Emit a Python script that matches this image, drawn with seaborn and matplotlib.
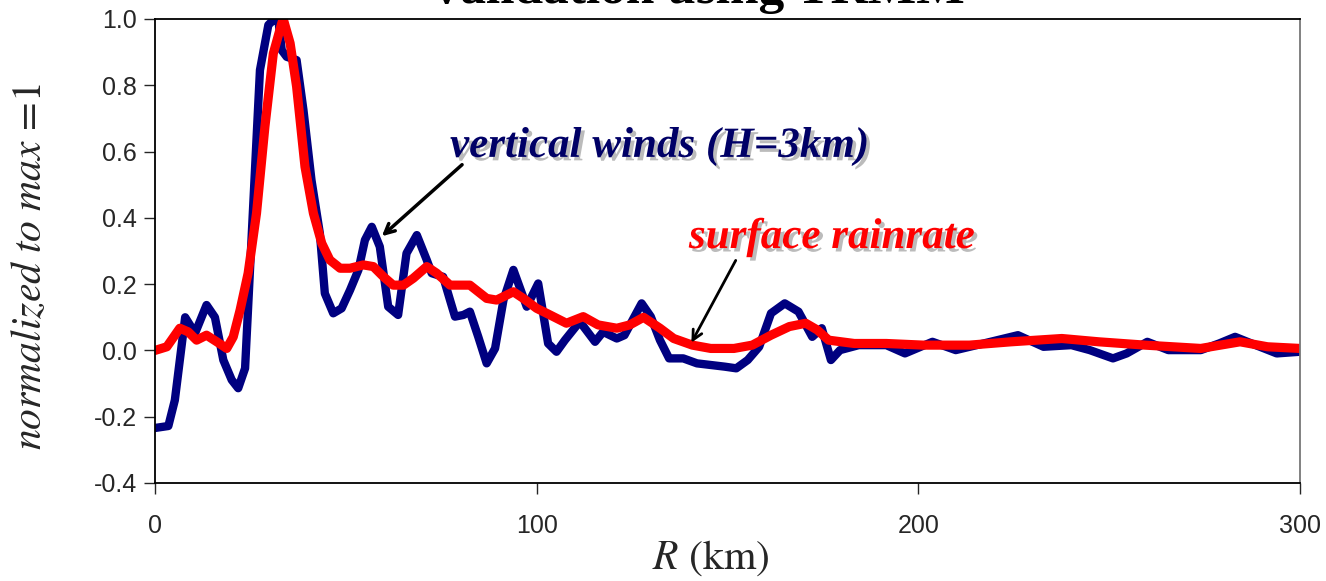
import numpy as np
import pandas as pd
import matplotlib
matplotlib.use("Agg")
import matplotlib.pyplot as plt
import matplotlib.patheffects as pe
import seaborn as sns

# ---- data ----
wind_r = [0, 3.5, 5.2, 7.9, 10.5, 13.5, 15.7, 17.9, 20.1, 21.8, 23.6, 27.5, 29.7, 31.0, 32.3,
          33.2, 34.5, 37.1, 38.9, 41.0, 43.2, 44.5, 46.7, 48.9, 51.1, 53.3, 55.0, 56.8, 58.9,
          61.1, 63.7, 65.9, 68.6, 71.2, 72.5, 75.5, 77.3, 78.6, 80.8, 82.5, 84.7, 86.9, 89.1,
          91.3, 93.9, 97.4, 100.4, 103.0, 105.2, 107.4, 111.3, 115.3, 117.4, 121.0, 123.0,
          127.5, 129.9, 132.3, 134.7, 138.4, 142.0, 149.3, 152.3, 155.3, 158.3, 161.4, 165.0,
          168.6, 172.2, 174.7, 177.1, 179.5, 184.4, 191.6, 196.5, 203.7, 209.8, 217.1, 226.1,
          232.8, 240.1, 244.9, 251.0, 254.6, 260.0, 265.5, 274.0, 278.8, 283.0, 287.3, 293.9, 300.0]
wind_v = [-0.234, -0.228, -0.15, 0.10, 0.052, 0.137, 0.10, -0.029, -0.089, -0.114, -0.054, 0.846,
          0.982, 0.997, 1.0, 0.906, 0.886, 0.876, 0.725, 0.514, 0.353, 0.172, 0.112, 0.127,
          0.182, 0.243, 0.333, 0.373, 0.313, 0.132, 0.107, 0.293, 0.348, 0.273, 0.233, 0.222,
          0.152, 0.102, 0.107, 0.117, 0.041, -0.039, 0.006, 0.152, 0.243, 0.132, 0.202, 0.021,
          -0.004, 0.031, 0.087, 0.026, 0.056, 0.036, 0.046, 0.142, 0.102, 0.031, -0.024, -0.024,
          -0.039, -0.049, -0.054, -0.029, 0.011, 0.112, 0.142, 0.117, 0.041, 0.067, -0.029,
          0.001, 0.016, 0.016, -0.009, 0.026, 0.001, 0.021, 0.046, 0.011, 0.016, 0.001, -0.024,
          -0.009, 0.026, 0.001, 0.001, 0.021, 0.041, 0.021, -0.009, -0.004]

rain_r = [0, 3.1, 6.5, 8.7, 10.9, 13.5, 16.2, 18.8, 20.5, 22.3, 24.4, 26.6, 28.8, 31.0, 33.2,
          33.6, 35.4, 37.1, 39.3, 41.5, 43.7, 45.8, 48.5, 51.1, 54.6, 57.2, 59.9, 62.4, 65.1,
          67.7, 71.2, 73.8, 77.3, 82.5, 86.9, 89.5, 93.9, 96.5, 100.0, 103.5, 107.8, 112.2,
          116.1, 121.0, 124.4, 128.0, 132.3, 135.9, 140.8, 145.6, 151.7, 156.5, 161.4, 166.2,
          170.5, 173.5, 176.5, 183.2, 191.6, 201.3, 213.4, 224.3, 237.6, 247.3, 259.4, 274.0,
          284.3, 291.5, 300.0]
rain_v = [0.0, 0.011, 0.067, 0.056, 0.031, 0.046, 0.026, 0.006, 0.041, 0.122, 0.233, 0.414,
          0.675, 0.896, 0.987, 1.0, 0.927, 0.796, 0.554, 0.414, 0.323, 0.273, 0.248, 0.248,
          0.258, 0.253, 0.222, 0.197, 0.197, 0.218, 0.253, 0.233, 0.197, 0.197, 0.157, 0.152,
          0.177, 0.157, 0.127, 0.107, 0.082, 0.102, 0.077, 0.067, 0.077, 0.100, 0.067, 0.036,
          0.016, 0.006, 0.006, 0.016, 0.046, 0.072, 0.082, 0.062, 0.031, 0.021, 0.021, 0.016,
          0.016, 0.026, 0.036, 0.026, 0.016, 0.006, 0.026, 0.011, 0.006]

x_ticks = [0, 100, 200, 300]
y_ticks = [-0.4, -0.2, 0.0, 0.2, 0.4, 0.6, 0.8, 1.0]

sns.set_style("ticks")
plt.rcParams["font.family"] = ["Liberation Sans", "DejaVu Sans"]
plt.rcParams["mathtext.fontset"] = "stix"

fig = plt.figure(figsize=(13.26, 5.81), dpi=100)
ax = fig.add_axes([155 / 1326, 1 - 483 / 581, 1145 / 1326, 464 / 581])

wind_df = pd.DataFrame({"R": wind_r, "v": wind_v})
rain_df = pd.DataFrame({"R": rain_r, "v": rain_v})
sns.lineplot(data=wind_df, x="R", y="v", ax=ax, color="#000080", lw=6.0,
             estimator=None, sort=False, solid_joinstyle="round", solid_capstyle="round")
sns.lineplot(data=rain_df, x="R", y="v", ax=ax, color="#ff0000", lw=6.6,
             estimator=None, sort=False, solid_joinstyle="round", solid_capstyle="round")

ax.set_xlim(0, 300)
ax.set_ylim(-0.4, 1.0)
ax.set_xticks(x_ticks)
ax.set_yticks(y_ticks)
ax.set_yticklabels([f"{t:.1f}" for t in y_ticks])
ax.tick_params(axis="y", direction="out", length=8, width=1, pad=5, labelsize=18)
ax.tick_params(axis="x", direction="out", length=8, width=1, pad=14, labelsize=18)
for s in ax.spines.values():
    s.set_visible(True)
    s.set_color("black")
    s.set_linewidth(1.3)
ax.spines["right"].set_color("#777777")

ax.set_xlabel(r"$\mathit{R}$ (km)", fontsize=30, family="STIXGeneral")
ax.set_ylabel(r"$\mathit{normalized\ to\ max}$ =1", fontsize=30, family="STIXGeneral")
ax.xaxis.set_label_coords(0.485, -0.12)
ax.yaxis.set_label_coords(-0.092, 0.466)

shadow = [pe.SimplePatchShadow(offset=(2.5, -2.5), shadow_rgbFace="#aaaaaa", alpha=0.8), pe.Normal()]
ax.text(77.3, 0.584, "vertical winds (H=3km)", fontsize=31, family="Liberation Serif",
        style="italic", weight="bold", color="#000066", va="baseline", ha="left", path_effects=shadow)
ax.text(139.9, 0.309, "surface rainrate", fontsize=31, family="Liberation Serif",
        style="italic", weight="bold", color="#ff0000", va="baseline", ha="left", path_effects=shadow)

ax.annotate("", xy=(58.9, 0.339), xytext=(81.0, 0.566),
            arrowprops=dict(arrowstyle="->,head_length=0.7,head_width=0.35", color="black", lw=2.5))
ax.annotate("", xy=(140.2, 0.016), xytext=(152.5, 0.279),
            arrowprops=dict(arrowstyle="->,head_length=0.7,head_width=0.35", color="black", lw=2.0))

fig.text(428 / 1326, 1 - 3 / 581, "Validation using TRMM", fontsize=37, family="Liberation Serif",
         weight="bold", ha="left", va="baseline", color="black")

fig.savefig("out.png", dpi=100)
